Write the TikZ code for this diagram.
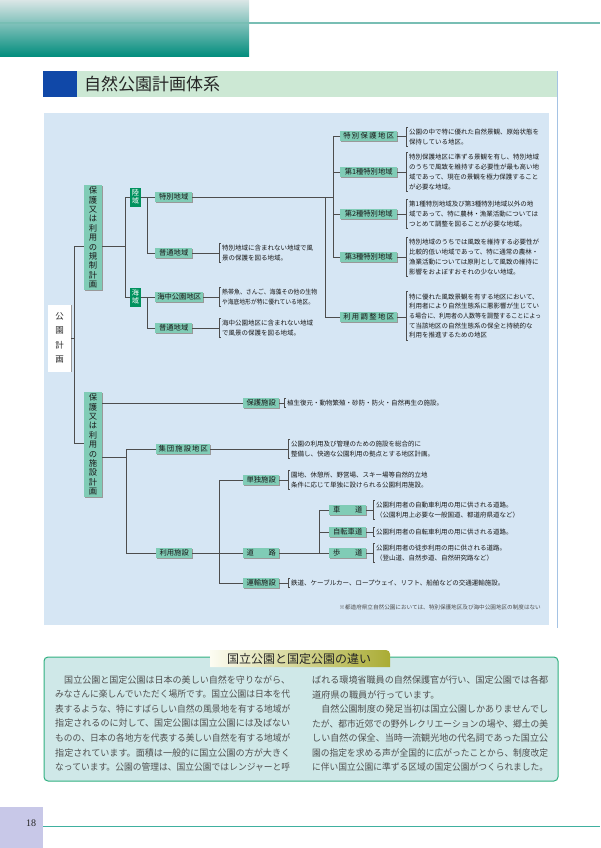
\documentclass[tikz,border=0pt]{standalone}
\usepackage{fontspec}
\usepackage{graphicx}
\setmainfont{Noto Sans CJK JP}
\newfontfamily\serifnum{Liberation Serif}
\usetikzlibrary{shadows}
\definecolor{bgblue}{RGB}{214,230,244}
\definecolor{boxc}{RGB}{128,204,182}
\definecolor{darkg}{RGB}{0,146,94}
\definecolor{lnc}{RGB}{77,77,77}
\definecolor{topL}{RGB}{218,230,230}
\definecolor{topD}{RGB}{0,140,124}
\definecolor{topline}{RGB}{120,190,180}
\definecolor{titleblue}{RGB}{16,72,168}
\definecolor{titlegreen}{RGB}{204,232,212}
\definecolor{framec}{RGB}{165,195,228}
\definecolor{noteF}{RGB}{207,232,232}
\definecolor{noteB}{RGB}{48,176,128}
\definecolor{tabL}{RGB}{252,252,242}
\definecolor{tabR}{RGB}{170,172,52}
\definecolor{lav}{RGB}{200,200,232}
\definecolor{pline}{RGB}{64,176,160}
\definecolor{bodyc}{RGB}{80,80,80}
\newcommand\fs[2]{\fontsize{#1}{#2}\selectfont}
\newcommand\jw[2]{\resizebox{#1}{\height}{#2}}
\newcommand\desc[5]{%
  \node[dsc] (#1) at (#3,#4) {#5};
  \coordinate (#1-k) at ([xshift=-3pt]#1.west);
  \draw[ln] (#2.east) -- (#2.east -| #1-k);
  \draw[ln] ([xshift=-0.8pt]#1.north west) -- (#1-k |- #1.north) -- (#1-k |- #1.south) -- ([xshift=-0.8pt]#1.south west);
}
\tikzset{
  ln/.style={draw=lnc, line width=0.8pt},
  shd/.style={drop shadow={shadow xshift=0.7pt,shadow yshift=-0.7pt,fill=black!40,opacity=1}},
  bx/.style={shd, fill=boxc, inner sep=0pt, minimum height=10pt, font=\fs{7.3}{8}, text=black!90, anchor=west},
  gbx/.style={fill=darkg, text=white, inner sep=0pt, minimum width=11pt, minimum height=19pt, align=center, font=\fs{7.2}{8.4}},
  vbx/.style={shd, fill=boxc, inner sep=0pt, minimum width=18pt, minimum height=105pt, align=center, font=\fs{8.3}{9.4}, text=black!90},
  dsc/.style={inner xsep=0pt, inner ysep=1.5pt, align=left, font=\fs{6.5}{9.7}, text=black!90, anchor=west},
  body/.style={inner sep=0pt, anchor=west, font=\fs{9.2}{10}, text=bodyc},
}
\begin{document}
\begin{tikzpicture}[x=1pt,y=-1pt]
\useasboundingbox (0,0) rectangle (600,848);
% header
\shade[top color=topL, bottom color=topD] (0,0) rectangle (249,57);
\draw[topline, line width=1.2pt] (0,23) -- (600,23);
\fill[titleblue] (43,71) rectangle (77,97);
\fill[titlegreen] (77,71) rectangle (557,97);
\node[anchor=west, font=\fs{17}{17}, text=black!85, inner sep=0pt] (title) at (84,84.5) {自然公園計画体系};
\draw[framec, line width=0.8pt] (557,71) -- (557,628);
% diagram background
\fill[bgblue] (44,113) rectangle (549,625);

% left column boxes
\node[shd, fill=white, inner sep=0pt, minimum width=23pt, minimum height=67pt, align=center, font=\fs{8.5}{14.5}, text=black!85] (koen) at (59.5,338) {公\\園\\計\\画};
\node[vbx] (kisei) at (93,237.5) {保\\護\\又\\は\\利\\用\\の\\規\\制\\計\\画};
\node[vbx] (shisetsuK) at (93,444.5) {保\\護\\又\\は\\利\\用\\の\\施\\設\\計\\画};
\node[gbx] (rikuiki) at (135.5,197) {陸\\域};
\node[gbx] (kaiiki) at (135.5,297) {海\\域};

% second level boxes
\node[bx, minimum width=37pt] (tokubetsu) at (155,197) {特別地域};
\node[bx, minimum width=37pt] (futsuL) at (155,253) {普通地域};
\node[bx, minimum width=48pt] (kaichu) at (155,297) {海中公園地区};
\node[bx, minimum width=37pt] (futsuS) at (155,328) {普通地域};

\node[bx, minimum width=57pt] (tokuho) at (340,136) {特\hspace{1.4pt}別\hspace{1.4pt}保\hspace{1.4pt}護\hspace{1.4pt}地\hspace{1.4pt}区};
\node[bx, minimum width=57pt] (dai1) at (340,172) {第1種特別地域};
\node[bx, minimum width=57pt] (dai2) at (340,214) {第2種特別地域};
\node[bx, minimum width=57pt] (dai3) at (340,257) {第3種特別地域};
\node[bx, minimum width=57pt] (riyocho) at (340,317) {利\hspace{1.4pt}用\hspace{1.4pt}調\hspace{1.4pt}整\hspace{1.4pt}地\hspace{1.4pt}区};

\node[bx, minimum width=36pt] (hogo) at (243,403) {保護施設};
\node[bx, minimum width=54pt] (shudan) at (156,449) {集\hspace{1.1pt}団\hspace{1.1pt}施\hspace{1.1pt}設\hspace{1.1pt}地\hspace{1.1pt}区};
\node[bx, minimum width=36pt] (riyoshi) at (156,553) {利用施設};
\node[bx, minimum width=36pt] (tandoku) at (243,480) {単独施設};
\node[bx, minimum width=36pt] (doro) at (243,553) {道　　路};
\node[bx, minimum width=36pt] (unyu) at (243,583) {運輸施設};
\node[bx, minimum width=37pt] (shado) at (329,510) {車　　道};
\node[bx, minimum width=37pt] (jitensha) at (329,532) {自転車道};
\node[bx, minimum width=37pt] (hodo) at (329,553) {歩　　道};

% junction coordinates
\coordinate (kA) at (74,246);
\coordinate (kB) at (74,443);
\coordinate (rA) at (125,246);
\coordinate (cA) at (147,197);
\coordinate (cB) at (147,297);
\coordinate (dA) at (333,197);
\coordinate (eA) at (325,197);
\coordinate (fA) at (126,457);
\coordinate (gA) at (219,553);
\coordinate (hA) at (319,553);

% connectors
\draw[ln] (koen.east) -- (koen.east -| kA);
\draw[ln] (kisei.west |- kA) -- (kA) -- (kB) -- (shisetsuK.west |- kB);
\draw[ln] (kisei.east |- rA) -- (rA);
\draw[ln] (rikuiki.west) -| (rA);
\draw[ln] (kaiiki.west) -| (rA);
\draw[ln] (rikuiki.east) -- (tokubetsu.west);
\draw[ln] (futsuL.west) -| (cA);
\draw[ln] (kaiiki.east) -- (kaichu.west);
\draw[ln] (futsuS.west) -| (cB);
\draw[ln] (tokubetsu.east) -- (dA);
\draw[ln] (tokuho.west) -| (dA);
\draw[ln] (dai3.west) -| (dA);
\draw[ln] (dai1.west) -- (dai1.west -| dA);
\draw[ln] (dai2.west) -- (dai2.west -| dA);
\draw[ln] (riyocho.west) -| (eA);

\draw[ln] (hogo.west -| shisetsuK.east) -- (hogo.west);
\draw[ln] (shisetsuK.east |- fA) -- (fA);
\draw[ln] (shudan.west) -| (fA);
\draw[ln] (riyoshi.west) -| (fA);
\draw[ln] (riyoshi.east) -- (doro.west);
\draw[ln] (tandoku.west) -| (gA);
\draw[ln] (unyu.west) -| (gA);
\draw[ln] (doro.east) -- (hodo.west);
\draw[ln] (shado.west) -| (hA);
\draw[ln] (jitensha.west) -- (jitensha.west -| hA);

% descriptions
\desc{d-tokuho}{tokuho}{409}{137}{公園の中で特に優れた自然景観、原始状態を\\保持している地区。}
\desc{d-dai1}{dai1}{409}{172}{特別保護地区に準ずる景観を有し、特別地域\\のうちで風致を維持する必要性が最も高い地\\域であって、現在の景観を極力保護すること\\が必要な地域。}
\desc{d-dai2}{dai2}{409}{214}{第1種特別地域及び第3種特別地域以外の地\\域であって、特に農林・漁業活動については\\つとめて調整を図ることが必要な地域。}
\desc{d-dai3}{dai3}{409}{257}{特別地域のうちでは風致を維持する必要性が\\比較的低い地域であって、特に通常の農林・\\漁業活動については原則として風致の維持に\\影響をおよぼすおそれの少ない地域。}
\desc{d-riyo}{riyocho}{409}{316}{特に優れた風致景観を有する地区において、\\利用者により自然生態系に悪影響が生じてい\\\jw{132pt}{る場合に、利用者の人数等を調整することによっ}\\て当該地区の自然生態系の保全と持続的な\\利用を推進するための地区}
\desc{d-futsuL}{futsuL}{222}{253}{特別地域に含まれない地域で風\\景の保護を図る地域。}
\desc{d-kaichu}{kaichu}{222}{297}{\jw{95pt}{熱帯魚、さんご、海藻その他の生物}\\\jw{92pt}{や海底地形が特に優れている地区。}}
\desc{d-futsuS}{futsuS}{222}{328}{海中公園地区に含まれない地域\\で風景の保護を図る地域。}
\desc{d-hogo}{hogo}{287}{403}{植生復元・動物繁殖・砂防・防火・自然再生の施設。}
\desc{d-shudan}{shudan}{291}{449}{公園の利用及び管理のための施設を総合的に\\整備し、快適な公園利用の拠点とする地区計画。}
\desc{d-tandoku}{tandoku}{291}{480}{園地、休憩所、野営場、スキー場等自然的立地\\条件に応じて単独に設けられる公園利用施設。}
\desc{d-shado}{shado}{376}{510}{公園利用者の自動車利用の用に供される道路。\\（公園利用上必要な一般国道、都道府県道など）}
\desc{d-jitensha}{jitensha}{376}{532}{公園利用者の自転車利用の用に供される道路。}
\desc{d-hodo}{hodo}{376}{553}{公園利用者の徒歩利用の用に供される道路。\\（登山道、自然歩道、自然研究路など）}
\desc{d-unyu}{unyu}{291}{583}{鉄道、ケーブルカー、ロープウェイ、リフト、船舶などの交通運輸施設。}

\node[anchor=east, font=\fs{5.6}{6}, text=black!70, inner sep=0pt] (note) at (541,607) {※都道府県立自然公園においては、特別保護地区及び海中公園地区の制度はない};

% bottom note box
\draw[draw=noteB, fill=noteF, line width=1pt, rounded corners=4pt] (44,657) rectangle (558,781);
\shade[left color=tabL, right color=tabR] (210,667) -- (210,650) -- (386,650) arc[start angle=90, end angle=0, radius=4pt] -- (390,667) -- cycle;
\node[anchor=west, font=\fs{12}{12}, text=black!85, inner sep=0pt] (tabtext) at (227,658.5) {国立公園と国定公園の違い};

\node[body] (l1) at (55,680) {\jw{235pt}{　国立公園と国定公園は日本の美しい自然を守りながら、}};
\node[body] (l2) at (55,694.5) {\jw{235pt}{みなさんに楽しんでいただく場所です。国立公園は日本を代}};
\node[body] (l3) at (55,709) {\jw{235pt}{表するような、特にすばらしい自然の風景地を有する地域が}};
\node[body] (l4) at (55,723.5) {\jw{235pt}{指定されるのに対して、国定公園は国立公園には及ばない}};
\node[body] (l5) at (55,738) {\jw{235pt}{ものの、日本の各地方を代表する美しい自然を有する地域が}};
\node[body] (l6) at (55,752.5) {\jw{235pt}{指定されています。面積は一般的に国立公園の方が大きく}};
\node[body] (l7) at (55,767) {\jw{235pt}{なっています。公園の管理は、国立公園ではレンジャーと呼}};

\node[body] (r1) at (312,680) {\jw{236pt}{ばれる環境省職員の自然保護官が行い、国定公園では各都}};
\node[body] (r2) at (312,694.5) {道府県の職員が行っています。};
\node[body] (r3) at (312,709) {\jw{236pt}{　自然公園制度の発足当初は国立公園しかありませんでし}};
\node[body] (r4) at (312,723.5) {\jw{236pt}{たが、都市近郊での野外レクリエーションの場や、郷土の美}};
\node[body] (r5) at (312,738) {\jw{236pt}{しい自然の保全、当時一流観光地の代名詞であった国立公}};
\node[body] (r6) at (312,752.5) {\jw{236pt}{園の指定を求める声が全国的に広がったことから、制度改定}};
\node[body] (r7) at (312,767) {\jw{236pt}{に伴い国立公園に準ずる区域の国定公園がつくられました。}};

% footer
\fill[lav] (0,807) rectangle (43,848);
\draw[pline, line width=1pt] (43,826) -- (600,826);
\node[font=\serifnum\fs{10}{10}, inner sep=0pt, text=black!85] (pnum) at (31,823) {18};
\end{tikzpicture}
\end{document}
